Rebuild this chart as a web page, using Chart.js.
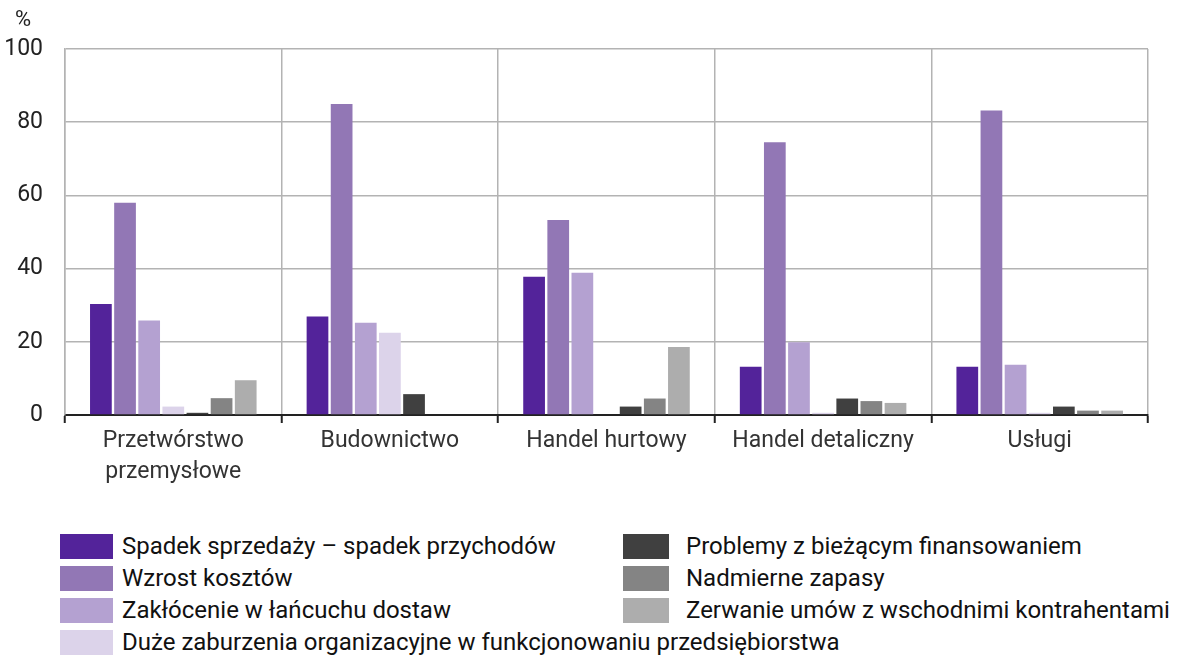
<!DOCTYPE html>
<html>
<head>
<meta charset="utf-8">
<script src="https://cdn.jsdelivr.net/npm/chart.js@4"></script>
<style>
  body { margin: 0; background: #fff; font-family: Roboto, sans-serif; }
  #wrap { position: relative; width: 1183px; height: 664px; }
  #myChart { position: absolute; left: 0; top: 0; }
  #unit { position: absolute; left: 15px; top: 6px; font-size: 22px; color: #222; }
  .leg { position: absolute; display: flex; align-items: center; font-size: 24px; color: #111; white-space: nowrap; height: 28px; }
  .leg span.box { display: inline-block; width: 53px; height: 25px; margin-right: 9px; }
</style>
</head>
<body>
<div id="wrap">
  <canvas id="myChart" width="1183" height="500"></canvas>
  <div id="unit">%</div>
  <div id="legend"></div>
</div>
<script>
// sectors
let categories = [
  ["Przetwórstwo", "przemysłowe"],
  "Budownictwo",
  "Handel hurtowy",
  "Handel detaliczny",
  "Usługi"
];

// series names
let seriesNames = [
  "Spadek sprzedaży – spadek przychodów",
  "Wzrost kosztów",
  "Zakłócenie w łańcuchu dostaw",
  "Duże zaburzenia organizacyjne w funkcjonowaniu przedsiębiorstwa",
  "Problemy z bieżącym finansowaniem",
  "Nadmierne zapasy",
  "Zerwanie umów z wschodnimi kontrahentami"
];

// values in %
let spadekSprzedazy = [30.3, 26.9, 37.8, 13.2, 13.2];
let wzrostKosztow = [58.0, 85.0, 53.3, 74.5, 83.2];
let zaklocenieDostaw = [25.8, 25.2, 38.9, 19.9, 13.7];
let zaburzeniaOrg = [2.3, 22.5, 0, 0.6, 0.6];
let problemyFinans = [0.6, 5.7, 2.3, 4.5, 2.3];
let nadmierneZapasy = [4.6, 0, 4.5, 3.8, 1.2];
let zerwanieUmow = [9.5, 0, 18.6, 3.3, 1.2];

let yTicks = [0, 20, 40, 60, 80, 100];

let colors = ["#53239a", "#9277b5", "#b4a1d1", "#dcd3ea", "#404040", "#848484", "#adadad"];
let allValues = [spadekSprzedazy, wzrostKosztow, zaklocenieDostaw, zaburzeniaOrg, problemyFinans, nadmierneZapasy, zerwanieUmow];

let datasets = allValues.map((vals, i) => {
  return {
    label: seriesNames[i],
    data: vals,
    backgroundColor: colors[i],
    borderWidth: 0,
    categoryPercentage: 0.78,
    barPercentage: 0.9
  };
});

let font = { family: "Roboto, sans-serif", size: 23 };

let ctx = document.getElementById("myChart").getContext("2d");
let myChart = new Chart(ctx, {
  type: "bar",
  data: { labels: categories, datasets },
  options: {
    responsive: false,
    animation: false,
    layout: { padding: { left: 0, right: 35, top: 49, bottom: 0 } },
    plugins: { legend: { display: false }, tooltip: { enabled: false } },
    scales: {
      x: {
        offset: true,
        grid: { offset: true, color: "#b3b3b3", lineWidth: 1.5, drawTicks: true, tickLength: 8, tickColor: "#222", tickWidth: 2 },
        border: { color: "#222", width: 2 },
        ticks: { color: "#333", font: { ...font, lineHeight: 1.35 }, padding: 3, maxRotation: 0 },
        afterFit: scale => { scale.height = 85; }
      },
      y: {
        min: 0,
        max: 100,
        afterBuildTicks: scale => { scale.ticks = yTicks.map(v => ({ value: v })); },
        grid: { color: "#b3b3b3", lineWidth: 1.5, drawTicks: false },
        border: { color: "#b3b3b3", width: 1.5 },
        ticks: { color: "#222", font, padding: 22 },
        afterFit: scale => { scale.width = 65; }
      }
    }
  }
});

// html legend in two columns
let legendEl = document.querySelector("#legend");
myChart.data.datasets.forEach((ds, i) => {
  let left = i < 4;
  let row = left ? i : i - 4;
  let div = document.createElement("div");
  div.className = "leg";
  div.style.left = (left ? 60 : 623) + "px";
  div.style.top = (532 + row * 32) + "px";
  div.innerHTML = `<span class="box" style="background:${ds.backgroundColor};${left ? "" : "width:46px;margin-right:17px;"}"></span>${ds.label}`;
  legendEl.appendChild(div);
});
</script>
</body>
</html>
